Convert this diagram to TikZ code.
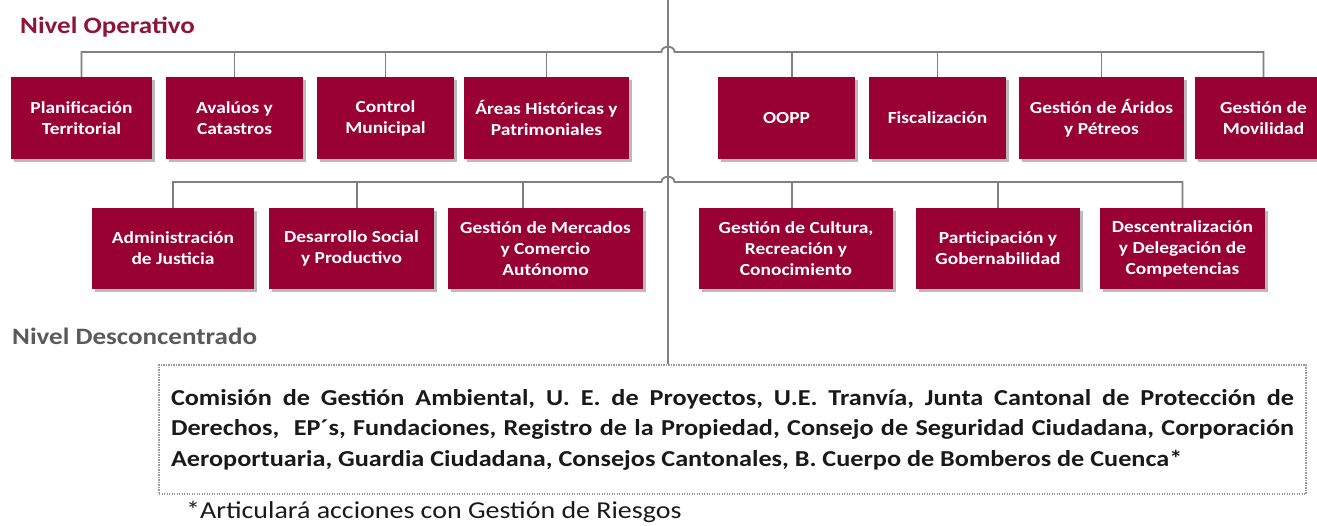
\documentclass[tikz,border=0pt]{standalone}
\usepackage{fontspec}
\setmainfont{Carlito}[FakeStretch=1.15]
\usetikzlibrary{shadows}
\definecolor{boxred}{HTML}{990033}
\definecolor{titlered}{HTML}{8E1538}
\definecolor{linegray}{HTML}{808080}
\definecolor{lvlgray}{HTML}{5A5A5A}
\begin{document}
\frenchspacing
\begin{tikzpicture}[x=1pt,y=-1pt,
  unit/.style={fill=boxred, text=white, font=\bfseries\fontsize{16.9}{21}\selectfont,
    align=center, inner sep=0pt, minimum height=82pt,
    drop shadow={shadow xshift=3pt, shadow yshift=-3pt, fill=black!60, opacity=0.45}},
  wire/.style={draw=linegray, line width=1.8pt},
  level/.style={anchor=west, inner sep=0pt, font=\bfseries\fontsize{23.5}{27}\selectfont},
]
\useasboundingbox (0,0) rectangle (1317,525);

% level labels
\node[level, text=titlered] (lop) at (20,27) {Nivel Operativo};
\node[level, text=lvlgray] (ldes) at (12,336) {Nivel Desconcentrado};

% row 1
\node[unit, minimum width=141pt] (n1) at (81.5,118) {Planificación\\Territorial};
\node[unit, minimum width=137pt] (n2) at (234.5,118) {Avalúos y\\Catastros};
\node[unit, minimum width=137pt] (n3) at (385.5,118) {Control\\Municipal};
\node[unit, minimum width=165pt] (n4) at (546.5,118) {Áreas Históricas y\\Patrimoniales};
\node[unit, minimum width=137pt] (n5) at (786.5,118) {OOPP};
\node[unit, minimum width=137pt] (n6) at (937.5,118) {Fiscalización};
\node[unit, minimum width=165pt] (n7) at (1101.5,118) {Gestión de Áridos\\y Pétreos};
\node[unit, minimum width=137pt] (n8) at (1263.5,118) {Gestión de\\Movilidad};

% row 2
\node[unit, minimum width=162pt, minimum height=81pt] (m1) at (173,248.5) {Administración\\de Justicia};
\node[unit, minimum width=165pt, minimum height=81pt] (m2) at (351.5,248.5) {Desarrollo Social\\y Productivo};
\node[unit, minimum width=195pt, minimum height=81pt] (m3) at (545.5,248.5) {Gestión de Mercados\\y Comercio\\Autónomo};
\node[unit, minimum width=194pt, minimum height=81pt] (m4) at (796,248.5) {Gestión de Cultura,\\Recreación y\\Conocimiento};
\node[unit, minimum width=164pt, minimum height=81pt] (m5) at (998,248.5) {Participación y\\Gobernabilidad};
\node[unit, minimum width=165pt, minimum height=81pt] (m6) at (1182.5,248.5) {Descentralización\\y Delegación de\\Competencias};

% dotted box
\node[draw=black!40, dash pattern=on 1.2pt off 1.3pt, line width=1.1pt,
  minimum width=1147pt, minimum height=129pt, text width=1123pt, align=justify,
  inner sep=0pt, text=black!90, font=\bfseries\fontsize{22.8}{30.5}\selectfont] (dbox) at (732.5,429.5)
  {\hyphenpenalty=10000 Comisión de Gestión Ambiental, U. E. de Proyectos, U.E. Tranvía, Junta Cantonal de Protección de\linebreak
   Derechos,\ \ EP´s, Fundaciones, Registro de la Propiedad, Consejo de Seguridad Ciudadana, Corporación\linebreak
   Aeroportuaria, Guardia Ciudadana, Consejos Cantonales, B. Cuerpo de Bomberos de Cuenca*};

% footnote
\node[anchor=west, inner sep=0pt, text=black!90, font=\fontsize{24.3}{28}\selectfont] (fn) at (186,512)
  {*Articulará acciones con Gestión de Riesgos};

% connectors
\coordinate (bus1) at (0,52);
\coordinate (bus2) at (0,182);
\coordinate (ctr) at (668,0);

\draw[wire] (ctr) -- (ctr |- dbox.north);

\draw[wire] (n1.north) -- (n1.north |- bus1) -- ([xshift=-6.5pt]ctr |- bus1)
  .. controls +(0,-7) and +(0,-7) .. ([xshift=6.5pt]ctr |- bus1)
  -- (n8.north |- bus1) -- (n8.north);
\foreach \n in {n2,n3,n4,n6,n7} \draw[wire] (\n.north) -- (\n.north |- bus1);
\draw[wire] ([xshift=5.5pt]n5.north) -- ([xshift=5.5pt]n5.north |- bus1);

\draw[wire] (m1.north) -- (m1.north |- bus2) -- ([xshift=-6.5pt]ctr |- bus2)
  .. controls +(0,-7) and +(0,-7) .. ([xshift=6.5pt]ctr |- bus2)
  -- (m6.north |- bus2) -- (m6.north);
\draw[wire] ([xshift=5.5pt]m2.north) -- ([xshift=5.5pt]m2.north |- bus2);
\draw[wire] ([xshift=-22.5pt]m3.north) -- ([xshift=-22.5pt]m3.north |- bus2);
\draw[wire] ([xshift=-4pt]m4.north) -- ([xshift=-4pt]m4.north |- bus2);
\draw[wire] (m5.north) -- (m5.north |- bus2);
\end{tikzpicture}
\end{document}
